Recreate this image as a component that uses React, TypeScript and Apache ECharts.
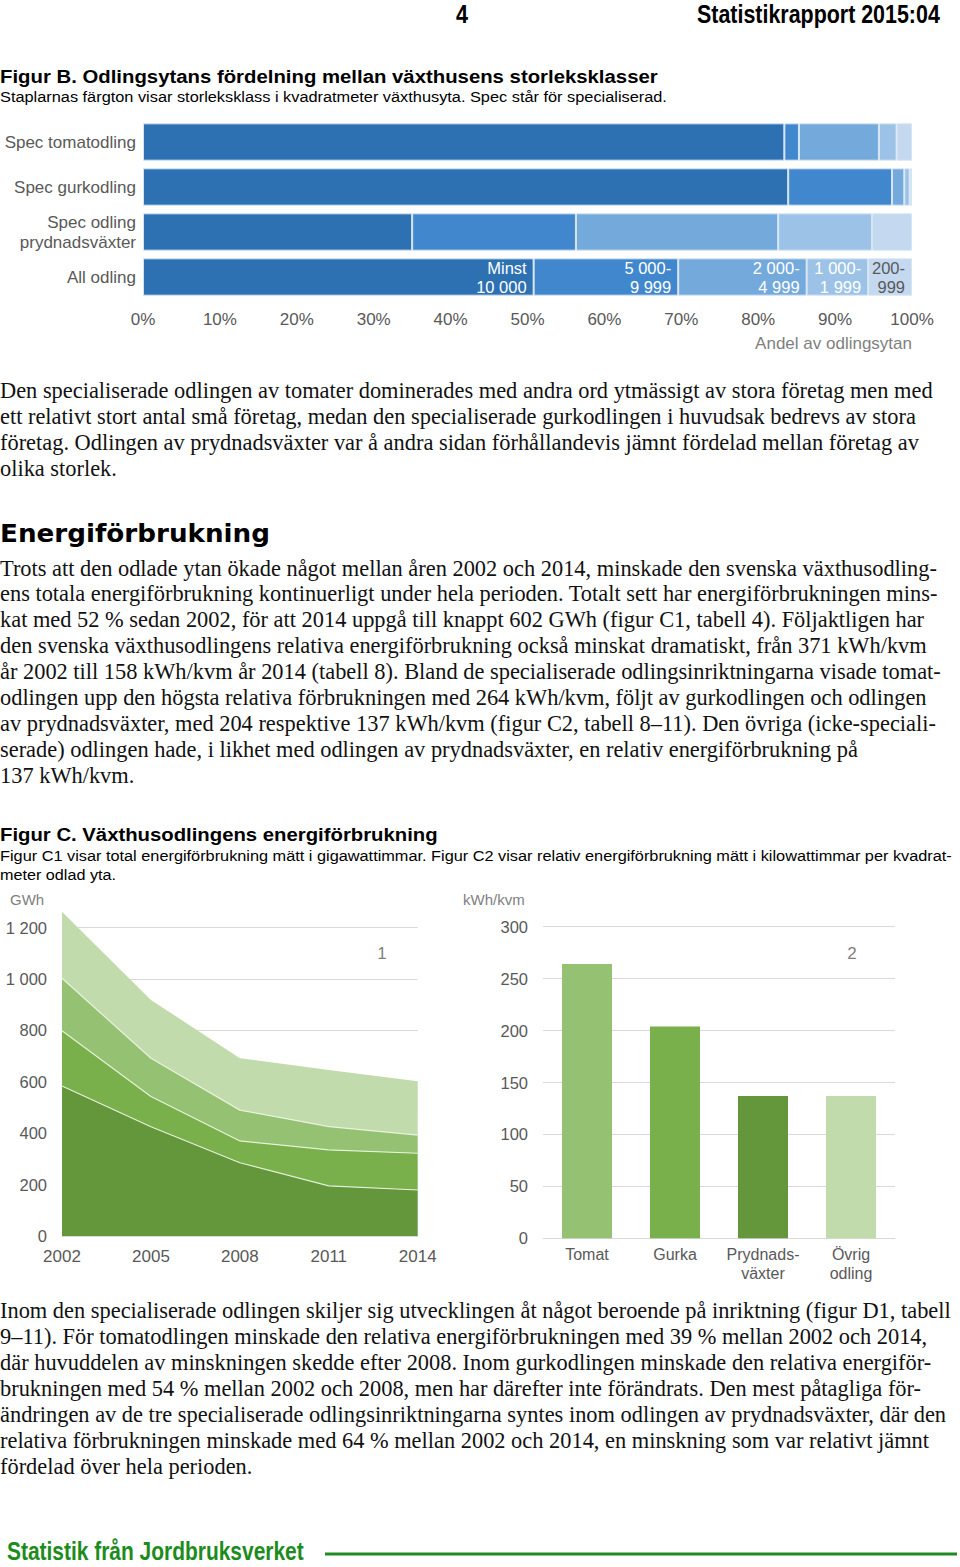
import React, { useEffect, useRef } from "react";
import * as echarts from "echarts";

// ---------- Figure B data ----------
const rowNames = ["Spec tomatodling", "Spec gurkodling", "Spec odling\nprydnadsväxter", "All odling"];
const sizeClassLabels = ["Minst\n10 000", "5 000-\n9 999", "2 000-\n4 999", "1 000-\n1 999", "200-\n999"];
const shareMinst10000 = [83.4, 83.9, 35.0, 50.8];
const share5000to9999 = [1.9, 13.5, 21.3, 18.8];
const share2000to4999 = [10.4, 1.6, 26.3, 16.7];
const share1000to1999 = [2.3, 0.7, 12.2, 8.0];
const share200to999 = [2.0, 0.3, 5.2, 5.7];

// ---------- Figure C1 data (GWh) ----------
const years = ["2002", "2005", "2008", "2011", "2014"];
const gwhPrydnadsvaxter = [584, 425, 285, 195, 179];
const gwhGurka = [215, 118, 85, 140, 143];
const gwhTomat = [204, 149, 120, 91, 71];
const gwhOvrig = [259, 227, 202, 220, 209];

// ---------- Figure C2 data (kWh/kvm) ----------
const c2Categories = ["Tomat", "Gurka", "Prydnads-\nväxter", "Övrig\nodling"];
const kwhPerKvm = [264, 204, 137, 137];

// ---------- Prose ----------
const para1 = [
  "Den specialiserade odlingen av tomater dominerades med andra ord ytmässigt av stora företag men med",
  "ett relativt stort antal små företag, medan den specialiserade gurkodlingen i huvudsak bedrevs av stora",
  "företag. Odlingen av prydnadsväxter var å andra sidan förhållandevis jämnt fördelad mellan företag av",
  "olika storlek.",
];
const para2 = [
  "Trots att den odlade ytan ökade något mellan åren 2002 och 2014, minskade den svenska växthusodling-",
  "ens totala energiförbrukning kontinuerligt under hela perioden. Totalt sett har energiförbrukningen mins-",
  "kat med 52 % sedan 2002, för att 2014 uppgå till knappt 602 GWh (figur C1, tabell 4). Följaktligen har",
  "den svenska växthusodlingens relativa energiförbrukning också minskat dramatiskt, från 371 kWh/kvm",
  "år 2002 till 158 kWh/kvm år 2014 (tabell 8). Bland de specialiserade odlingsinriktningarna visade tomat-",
  "odlingen upp den högsta relativa förbrukningen med 264 kWh/kvm, följt av gurkodlingen och odlingen",
  "av prydnadsväxter, med 204 respektive 137 kWh/kvm (figur C2, tabell 8–11). Den övriga (icke-speciali-",
  "serade) odlingen hade, i likhet med odlingen av prydnadsväxter, en relativ energiförbrukning på",
  "137 kWh/kvm.",
];
const para3 = [
  "Inom den specialiserade odlingen skiljer sig utvecklingen åt något beroende på inriktning (figur D1, tabell",
  "9–11). För tomatodlingen minskade den relativa energiförbrukningen med 39 % mellan 2002 och 2014,",
  "där huvuddelen av minskningen skedde efter 2008. Inom gurkodlingen minskade den relativa energiför-",
  "brukningen med 54 % mellan 2002 och 2008, men har därefter inte förändrats. Den mest påtagliga för-",
  "ändringen av de tre specialiserade odlingsinriktningarna syntes inom odlingen av prydnadsväxter, där den",
  "relativa förbrukningen minskade med 64 % mellan 2002 och 2014, en minskning som var relativt jämnt",
  "fördelad över hela perioden.",
];

const blues = ["#2e71b3", "#4187cd", "#74a9dc", "#9cc3e7", "#c4d9ef"];
const greens = { pryd: "#64963c", gurka: "#79b04b", tomat: "#95c172", ovrig: "#c2dbac" };
const c2Colors = [greens.tomat, greens.gurka, greens.pryd, greens.ovrig];

const SANS = "Liberation Sans, Arial, sans-serif";
const SERIF = "Liberation Serif, Times New Roman, serif";
const AXIS_GREY = "#595959";
const PROSE_SIZE = 22.4;

function measure(text: string, font: string): number {
  const c = document.createElement("canvas").getContext("2d");
  if (!c) return 1;
  c.font = font;
  return c.measureText(text).width;
}

function fitText(text: string, x: number, y: number, size: number, weight: string, family: string, targetWidth: number, fill: string) {
  const font = `${weight} ${size}px ${family}`;
  const w = measure(text, font);
  const s = w > 0 ? targetWidth / w : 1;
  return {
    type: "text",
    x,
    y,
    scaleX: s,
    style: { text, x: 0, y: 0, font, fill, textAlign: "left", textVerticalAlign: "middle" },
  };
}

function textEl(text: string, x: number, y: number, size: number, fill: string, align = "left", weight = "normal", family = SANS) {
  return {
    type: "text",
    x,
    y,
    style: { text, x: 0, y: 0, font: `${weight} ${size}px ${family}`, fill, textAlign: align, textVerticalAlign: "middle" },
  };
}

const thousands = (v: number) => String(v).replace(/\B(?=(\d{3})+(?!\d))/g, " ");

export default function App() {
  const ref = useRef<HTMLDivElement>(null);

  useEffect(() => {
    if (!ref.current) return;
    const chart = echarts.init(ref.current, undefined, { renderer: "svg" });

    const bSeriesData = [shareMinst10000, share5000to9999, share2000to4999, share1000to1999, share200to999];
    const bSeries = bSeriesData.map((arr, si) => ({
      type: "bar",
      name: sizeClassLabels[si],
      stack: "b",
      xAxisIndex: 0,
      yAxisIndex: 0,
      barCategoryGap: "17%",
      itemStyle: { color: blues[si], borderColor: "#d6e5f3", borderWidth: 1 },
      data: arr.map((v, i) =>
        i === rowNames.length - 1
          ? {
              value: v,
              label: {
                show: true,
                position: "insideRight",
                distance: 7,
                formatter: sizeClassLabels[si],
                color: si === 4 ? AXIS_GREY : "#ffffff",
                fontSize: 16.5,
                lineHeight: 19,
                align: "right",
                fontFamily: SANS,
              },
            }
          : v
      ),
    }));

    const c1Defs = [
      { name: "Prydnadsväxter", data: gwhPrydnadsvaxter, color: greens.pryd },
      { name: "Gurka", data: gwhGurka, color: greens.gurka },
      { name: "Tomat", data: gwhTomat, color: greens.tomat },
      { name: "Övrig odling", data: gwhOvrig, color: greens.ovrig },
    ];
    const c1Series = c1Defs.map((d, i) => ({
      type: "line",
      name: d.name,
      stack: "c1",
      xAxisIndex: 1,
      yAxisIndex: 1,
      symbol: "none",
      clip: false,
      lineStyle: { color: i < 3 ? "rgba(235,245,225,0.9)" : d.color, width: i < 3 ? 1.2 : 0 },
      areaStyle: { color: d.color, opacity: 1 },
      data: d.data,
    }));

    const c2Series = {
      type: "bar",
      xAxisIndex: 2,
      yAxisIndex: 2,
      barWidth: 50,
      data: kwhPerKvm.map((v, i) => ({ value: v, itemStyle: { color: c2Colors[i] } })),
    };

    const prose: any[] = [];
    para1.forEach((t, i) => prose.push(textEl(t, 0, 390 + i * 26, PROSE_SIZE, "#111", "left", "normal", SERIF)));
    para2.forEach((t, i) => prose.push(textEl(t, 0, 568 + i * 25.9, PROSE_SIZE, "#111", "left", "normal", SERIF)));
    para3.forEach((t, i) => prose.push(textEl(t, 0, 1310 + i * 26, PROSE_SIZE, "#111", "left", "normal", SERIF)));

    const graphics: any[] = [
      fitText("4", 456, 14, 26, "bold", SANS, 12, "#000"),
      fitText("Statistikrapport 2015:04", 697, 14, 26, "bold", SANS, 243, "#000"),
      fitText("Figur B. Odlingsytans fördelning mellan växthusens storleksklasser", 0, 76, 19, "bold", SANS, 658, "#000"),
      fitText("Staplarnas färgton visar storleksklass i kvadratmeter växthusyta. Spec står för specialiserad.", 0, 97, 15, "normal", SANS, 667, "#000"),
      textEl("Andel av odlingsytan", 912, 343, 17, "#7f7f7f", "right"),
      fitText("Energiförbrukning", 0, 533, 25, "bold", "DejaVu Sans, Verdana, sans-serif", 270, "#000"),
      fitText("Figur C. Växthusodlingens energiförbrukning", 0, 834, 19, "bold", SANS, 438, "#000"),
      fitText("Figur C1 visar total energiförbrukning mätt i gigawattimmar. Figur C2 visar relativ energiförbrukning mätt i kilowattimmar per kvadrat-", 0, 856, 15, "normal", SANS, 952, "#000"),
      fitText("meter odlad yta.", 0, 875, 15, "normal", SANS, 116, "#000"),
      textEl("GWh", 10, 899, 15, "#7f7f7f"),
      textEl("kWh/kvm", 463, 899, 15, "#7f7f7f"),
      textEl("1", 382, 953, 17, "#7f7f7f", "center"),
      textEl("2", 852, 953, 17, "#7f7f7f", "center"),
      textEl("Övrig odling", 409, 1103, 16, "#7f7f7f", "right"),
      textEl("Tomat", 256, 1131, 16, "#ffffff", "left"),
      textEl("Gurka", 409, 1172, 16, "#ffffff", "right"),
      textEl("Prydnadsväxter", 409, 1213, 16, "#ffffff", "right"),
      fitText("Statistik från Jordbruksverket", 7, 1551, 25, "bold", SANS, 297, "#1c8c1c"),
      { type: "line", shape: { x1: 325, y1: 1554, x2: 957, y2: 1554 }, style: { stroke: "#1f8a1f", lineWidth: 3 } },
      ...prose,
    ];

    chart.setOption({
      animation: false,
      backgroundColor: "#ffffff",
      textStyle: { fontFamily: SANS },
      grid: [
        { left: 143, top: 119.5, width: 769, height: 180 },
        { left: 62, top: 927.7, width: 355.7, height: 308.3 },
        { left: 543, top: 926.7, width: 352, height: 311.6 },
      ],
      xAxis: [
        {
          type: "value",
          gridIndex: 0,
          min: 0,
          max: 100,
          interval: 10,
          axisLabel: { formatter: "{value}%", fontSize: 17, color: AXIS_GREY, margin: 11 },
          axisLine: { show: false },
          axisTick: { show: false },
          splitLine: { show: false },
        },
        {
          type: "category",
          gridIndex: 1,
          boundaryGap: false,
          data: years,
          axisLine: { lineStyle: { color: "#d9d9d9" } },
          axisTick: { show: false },
          axisLabel: { fontSize: 17, color: AXIS_GREY, margin: 12, interval: 0 },
        },
        {
          type: "category",
          gridIndex: 2,
          data: c2Categories,
          axisLine: { lineStyle: { color: "#d9d9d9" } },
          axisTick: { show: false },
          axisLabel: { fontSize: 16, color: AXIS_GREY, margin: 7, lineHeight: 19, interval: 0 },
        },
      ],
      yAxis: [
        {
          type: "category",
          gridIndex: 0,
          inverse: true,
          data: rowNames,
          axisLine: { show: false },
          axisTick: { show: false },
          axisLabel: { fontSize: 17, color: AXIS_GREY, margin: 7, lineHeight: 20, interval: 0 },
        },
        {
          type: "value",
          gridIndex: 1,
          min: 0,
          max: 1200,
          interval: 200,
          axisLabel: { formatter: thousands, fontSize: 16.5, color: AXIS_GREY, margin: 15 },
          axisLine: { show: false },
          axisTick: { show: false },
          splitLine: { lineStyle: { color: "#d9d9d9" } },
        },
        {
          type: "value",
          gridIndex: 2,
          min: 0,
          max: 300,
          interval: 50,
          axisLabel: { fontSize: 16.5, color: AXIS_GREY, margin: 15 },
          axisLine: { show: false },
          axisTick: { show: false },
          splitLine: { lineStyle: { color: "#d9d9d9" } },
        },
      ],
      series: [...bSeries, ...c1Series, c2Series],
      graphic: graphics,
    });

    return () => chart.dispose();
  }, []);

  return (
    <div
      ref={ref}
      style={{ position: "absolute", left: 0, top: 0, width: 960, height: 1567, background: "#fff" }}
    />
  );
}
